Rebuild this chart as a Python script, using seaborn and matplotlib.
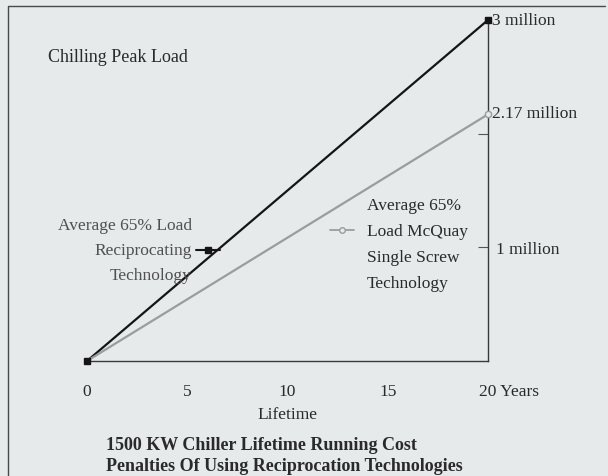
import numpy as np
import seaborn as sns
import matplotlib.pyplot as plt
import pandas as pd
from matplotlib.lines import Line2D
from matplotlib.transforms import ScaledTranslation

# данные (млн, годы)
years = [0, 20]
recip_cost = [0, 3.0]
screw_cost = [0, 2.17]
x_ticks = [0, 5, 10, 15, 20]
x_tick_labels = ['0', '5', '10', '15', '20 Years']

LBL_RECIP = 'Reciprocating'
LBL_SCREW = 'Single Screw'

df = pd.concat([
    pd.DataFrame({'year': years, 'cost': recip_cost, 'tech': LBL_RECIP}),
    pd.DataFrame({'year': years, 'cost': screw_cost, 'tech': LBL_SCREW}),
], ignore_index=True)

BG = '#e6eaea'
BLACK = '#151515'
GREY = '#9c9c9c'
TXT = '#2a2a2a'
FS = 12.5

sns.set_theme(style='white')
plt.rcParams['font.family'] = ['Liberation Serif', 'DejaVu Serif']

fig = plt.figure(figsize=(6.08, 4.77), dpi=100, facecolor=BG)
ax = fig.add_axes([0.1431, 0.2411, 0.6595, 0.7149])
ax.set_facecolor(BG)

sns.lineplot(data=df, x='year', y='cost', hue='tech',
             palette={LBL_RECIP: BLACK, LBL_SCREW: GREY},
             linewidth=1.6, legend=False, ax=ax)
for line in ax.get_lines():
    line.set_clip_on(False)

# маркеры на концах
ax.plot(years[-1], recip_cost[-1], 's', color=BLACK, ms=5, clip_on=False, zorder=5)
ax.plot(years[0], recip_cost[0], 's', color=BLACK, ms=5, clip_on=False, zorder=5)
ax.plot(years[-1], screw_cost[-1], 'o', mfc=BG, mec=GREY, ms=4.5, mew=1,
        clip_on=False, zorder=5)

ax.set_xlim(years[0], years[-1])
ax.set_ylim(0, max(recip_cost))

for s in ['top', 'left']:
    ax.spines[s].set_visible(False)
for s in ['bottom', 'right']:
    ax.spines[s].set_color('#3a3a3a')
    ax.spines[s].set_linewidth(1.0)

ax.set_xticks(x_ticks)
ax.set_xticklabels(x_tick_labels)
ax.tick_params(axis='x', direction='in', length=4, width=0.8, color='#555555',
               labelsize=FS, labelcolor=TXT, pad=16)
# "20 Years": число по центру под делением
last = ax.get_xticklabels()[-1]
last.set_horizontalalignment('left')
last.set_transform(last.get_transform() + ScaledTranslation(-8.7 / 100, 0, fig.dpi_scale_trans))

ax.yaxis.tick_right()
ax.set_yticks([1, 2])
ax.set_yticklabels(['1 million', ''])
ax.tick_params(axis='y', direction='in', length=7, width=0.8, color='#555555',
               labelsize=FS, labelcolor=TXT, pad=6)
ax.set_xlabel('Lifetime', fontsize=FS, color=TXT, labelpad=5)
ax.set_ylabel('')

# подписи концов линий
ax.annotate(f'{recip_cost[-1]:g} million', xy=(years[-1], recip_cost[-1]),
            xytext=(3, 0), textcoords='offset points', ha='left', va='center',
            fontsize=FS, color=TXT)
ax.annotate(f'{screw_cost[-1]:g} million', xy=(years[-1], screw_cost[-1]),
            xytext=(3, 1), textcoords='offset points', ha='left', va='center',
            fontsize=FS, color=TXT)

# заголовок и подписи-легенды
fig.text(48 / 608, 1 - 57 / 477, 'Chilling Peak Load', fontsize=13,
         color=TXT, va='center', ha='left')

for i, s in enumerate(['Average 65% Load', 'Reciprocating', 'Technology']):
    fig.text(192 / 608, 1 - (226 + 25 * i) / 477, s, fontsize=FS, color='#505050',
             ha='right', va='center')
fig.add_artist(Line2D([196 / 608, 220 / 608], [1 - 251 / 477] * 2, color=BLACK,
                      lw=1.5, transform=fig.transFigure))
fig.add_artist(Line2D([208 / 608], [1 - 251 / 477], color=BLACK, marker='s', ms=4.5,
                      transform=fig.transFigure))

for i, s in enumerate(['Average 65%', 'Load McQuay', 'Single Screw', 'Technology']):
    fig.text(367 / 608, 1 - (206 + 26 * i) / 477, s, fontsize=FS, color=TXT,
             ha='left', va='center')
fig.add_artist(Line2D([330 / 608, 354 / 608], [1 - 231 / 477] * 2, color=GREY,
                      lw=1.3, transform=fig.transFigure))
fig.add_artist(Line2D([342 / 608], [1 - 231 / 477], color=GREY, marker='o', ms=4,
                      mfc=BG, mec=GREY, transform=fig.transFigure))

fig.text(106 / 608, 1 - 445 / 477, '1500 KW Chiller Lifetime Running Cost',
         fontsize=13, fontweight='bold', color=TXT, ha='left', va='center')
fig.text(106 / 608, 1 - 467 / 477, 'Penalties Of Using Reciprocation Technologies',
         fontsize=13, fontweight='bold', color=TXT, ha='left', va='center')

# рамка
fig.add_artist(Line2D([8 / 608, 8 / 608, 605 / 608], [0, 1 - 7 / 477, 1 - 7 / 477],
                      color='#4a4a4a', lw=1.0, transform=fig.transFigure))

fig.savefig('out.png', dpi=100, facecolor=BG)
